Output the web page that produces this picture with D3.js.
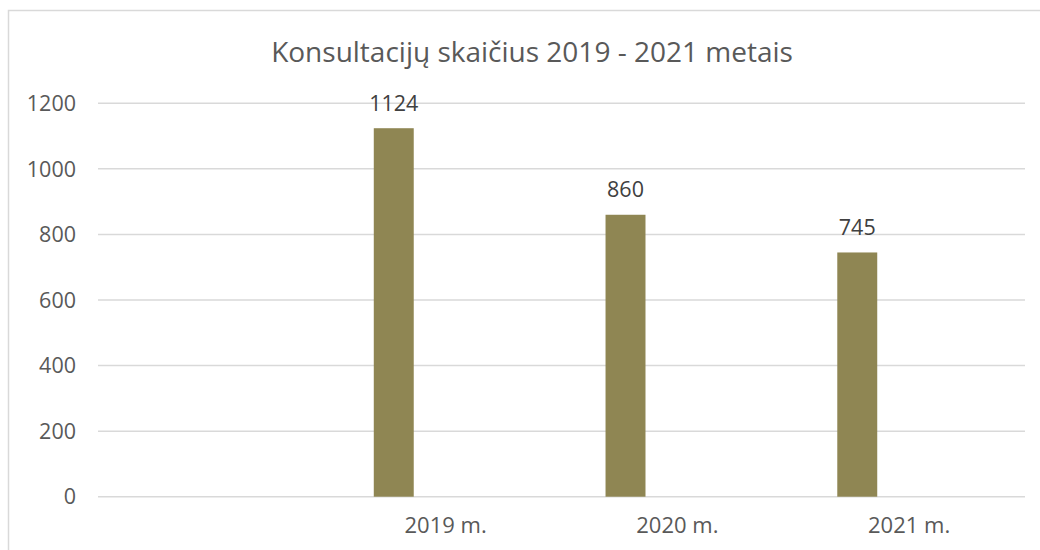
<html>
<head>
<meta charset="utf-8">
<script src="https://d3js.org/d3.v7.min.js"></script>
<style>
  body { margin: 0; background: white; }
  svg { font-family: "Open Sans", Lato, sans-serif; }
  .grid line { stroke: #d9d9d9; stroke-width: 1.5px; }
  .ytick { fill: #595959; font-size: 21.5px; }
  .xtick { fill: #595959; font-size: 22px; }
  .label { fill: #404040; font-size: 21.5px; }
  .title { fill: #595959; font-size: 28px; }
</style>
</head>
<body>
<svg id="chart" width="1040" height="550"></svg>
<script>
// data
const categories = ["", "2019 m.", "2020 m.", "2021 m."];
const seriesNames = ["Konsultacijos", ""];
const values = [null, 1124, 860, 745];
const yTicks = [0, 200, 400, 600, 800, 1000, 1200];
const titleText = "Konsultacijų skaičius 2019 - 2021 metais";

const svg = d3.select("#chart");

// chart frame
svg.append("rect")
    .attr("x", 8.5).attr("y", 10.5)
    .attr("width", 1100).attr("height", 600)
    .attr("fill", "white")
    .attr("stroke", "#d9d9d9")
    .attr("stroke-width", 1.5);

const plotLeft = 98, plotRight = 1025, plotTop = 103.3, plotBottom = 496.7;

const x0 = d3.scaleBand()
    .domain(categories)
    .range([plotLeft, plotRight]);

// second (empty) series only shifts the bar left inside its category
const x1 = d3.scaleBand()
    .domain(seriesNames)
    .range([0, x0.bandwidth()])
    .paddingOuter(1.9)
    .align(0.29);

const y = d3.scaleLinear()
    .domain([0, 1200])
    .range([plotBottom, plotTop]);

// gridlines
svg.append("g").attr("class", "grid")
    .selectAll("line")
    .data(yTicks)
    .join("line")
    .attr("x1", plotLeft).attr("x2", plotRight)
    .attr("y1", d => y(d)).attr("y2", d => y(d));

// y labels
svg.append("g")
    .selectAll("text")
    .data(yTicks)
    .join("text")
    .attr("class", "ytick")
    .attr("x", 76)
    .attr("y", d => y(d))
    .attr("dy", "0.36em")
    .attr("text-anchor", "end")
    .text(d => d);

// x labels
svg.append("g")
    .selectAll("text")
    .data(categories)
    .join("text")
    .attr("class", "xtick")
    .attr("x", d => x0(d) + x0.bandwidth() / 2)
    .attr("y", 533)
    .attr("text-anchor", "middle")
    .text(d => d);

const barData = categories.map((c, i) => ({cat: c, v: values[i]})).filter(d => d.v != null);

svg.append("g")
    .selectAll("rect")
    .data(barData)
    .join("rect")
    .attr("x", d => x0(d.cat) + x1(seriesNames[0]))
    .attr("width", x1.bandwidth())
    .attr("y", d => y(d.v))
    .attr("height", d => y(0) - y(d.v))
    .attr("fill", "#8f8653");

svg.append("g")
    .selectAll("text")
    .data(barData)
    .join("text")
    .attr("class", "label")
    .attr("x", d => x0(d.cat) + x1(seriesNames[0]) + x1.bandwidth() / 2)
    .attr("y", d => y(d.v) - 17.5)
    .attr("text-anchor", "middle")
    .text(d => d.v);

svg.append("text")
    .attr("class", "title")
    .attr("x", 532)
    .attr("y", 62)
    .attr("text-anchor", "middle")
    .text(titleText);
</script>
</body>
</html>
